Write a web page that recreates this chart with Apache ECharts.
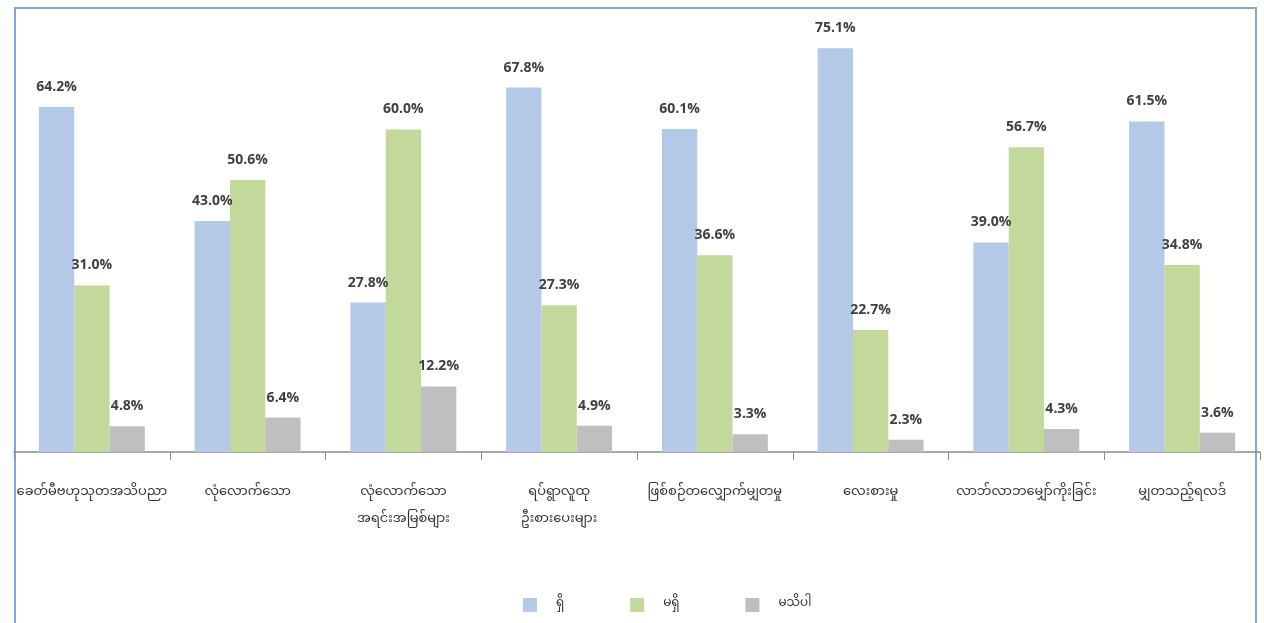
<!DOCTYPE html>
<html>
<head>
<meta charset="utf-8">
<script src="https://cdn.jsdelivr.net/npm/echarts@6/dist/echarts.min.js"></script>
<style>
  html, body { margin: 0; padding: 0; background: #fff; }
  #frame {
    position: absolute; left: 14px; top: 7px; width: 1243px; height: 640px;
    border: 2px solid #7ea9d8; box-sizing: border-box;
  }
  #box { width: 1264px; height: 623px; position: absolute; left: 0; top: 0; }
</style>
</head>
<body>
<div id="frame"></div>
<div id="box"></div>
<script>
var categories = [
  "ခေတ်မီဗဟုသုတအသိပညာ",
  "လုံလောက်သော",
  "လုံလောက်သော\nအရင်းအမြစ်များ",
  "ရပ်ရွာလူထု\nဦးစားပေးများ",
  "ဖြစ်စဉ်တလျှောက်မျှတမှု",
  "လေးစားမှု",
  "လာဘ်လာဘမျှော်ကိုးခြင်း",
  "မျှတသည့်ရလဒ်"
];
var seriesNames = ["ရှိ", "မရှိ", "မသိပါ"];
var yesValues = [64.2, 43.0, 27.8, 67.8, 60.1, 75.1, 39.0, 61.5];
var noValues = [31.0, 50.6, 60.0, 27.3, 36.6, 22.7, 56.7, 34.8];
var dontKnowValues = [4.8, 6.4, 12.2, 4.9, 3.3, 2.3, 4.3, 3.6];
var colors = ["#b3c9e5", "#c3d89b", "#bfbfbf"];

var myFont = "'Noto Sans Myanmar', 'Padauk', 'Myanmar Text', 'Noto Sans', sans-serif";

function barSeries(name, data, color) {
  return {
    name: name,
    type: "bar",
    data: data,
    barGap: "0%",
    barCategoryGap: "32%",
    itemStyle: { color: color },
    label: {
      show: true,
      position: "top",
      distance: 13,
      formatter: function (p) { return p.value.toFixed(1) + "%"; },
      color: "#404040",
      fontWeight: "bold",
      fontSize: 14,
      fontFamily: "'Open Sans', 'DejaVu Sans', sans-serif"
    }
  };
}

var myChart = echarts.init(document.getElementById("box"));
var option = {
  animation: false,
  color: colors,
  grid: { left: 14, right: 4, top: 22, bottom: 171, containLabel: false },
  legend: {
    bottom: 6,
    left: 518,
    itemWidth: 14,
    itemHeight: 14,
    itemGap: 66,
    icon: "rect",
    textStyle: { fontSize: 12, color: "#333", fontFamily: myFont, padding: [0, 0, 0, 14] },
    data: seriesNames
  },
  xAxis: {
    type: "category",
    data: categories,
    axisLine: { lineStyle: { color: "#8c8c8c", width: 1.5 } },
    axisTick: { show: true, length: 8, lineStyle: { color: "#8c8c8c" } },
    axisLabel: {
      interval: 0,
      margin: 28,
      fontSize: 13,
      lineHeight: 27,
      color: "#333",
      fontFamily: myFont
    }
  },
  yAxis: {
    type: "value",
    min: 0,
    max: 80,
    show: false,
    splitLine: { show: false }
  },
  series: [
    barSeries(seriesNames[0], yesValues, colors[0]),
    barSeries(seriesNames[1], noValues, colors[1]),
    barSeries(seriesNames[2], dontKnowValues, colors[2])
  ]
};
myChart.setOption(option);
</script>
</body>
</html>
